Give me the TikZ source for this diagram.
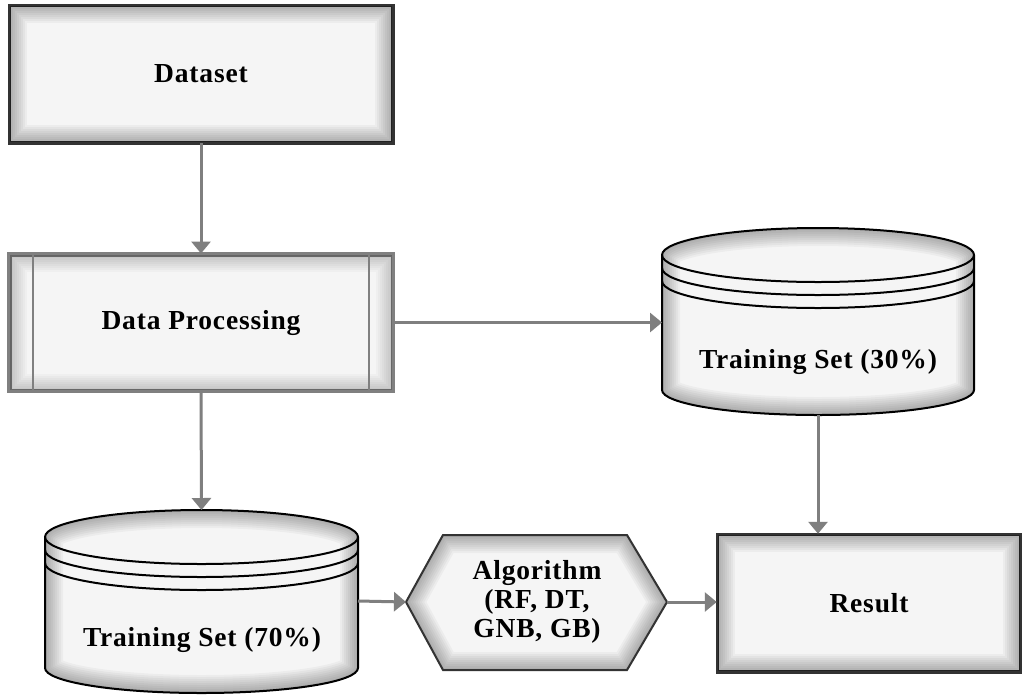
\documentclass[tikz,border=0pt]{standalone}
\usepackage{fontspec}
\setmainfont{Liberation Serif}
\newfontfamily\labfont{Liberation Serif}[LetterSpace=3]
\usetikzlibrary{arrows.meta}

\definecolor{boxfill}{HTML}{F5F5F5}
\definecolor{conncol}{HTML}{7F7F7F}
\definecolor{edgecol}{HTML}{333333}
\definecolor{procedge}{HTML}{808080}

\tikzset{
  lbl/.style={font=\labfont\bfseries\fontsize{27.5}{29}\selectfont, align=center, text=black, inner sep=0pt},
  link/.style={draw=conncol, line width=3pt, -{Triangle[length=12pt,width=19pt]}},
  boxframe/.style={draw=edgecol, line width=2.5pt, fill=boxfill, inner sep=0pt},
  ghost/.style={draw=none, inner sep=0pt, outer sep=0pt},
  % cylinder outline: x1, x2, y of top rim, y of bottom rim, x radius
  drum/.style n args={5}{insert path={(#1,#3) -- (#1,#4)
      arc[start angle=180,end angle=0,x radius=#5,y radius=25] -- (#2,#4) -- (#2,#3)
      arc[start angle=0,end angle=-180,x radius=#5,y radius=27] -- cycle}},
}

% soft darkening along the inside of a closed path
\newcommand\innershade[2][0.035]{%
  \begin{scope}
    \clip[#2];
    \foreach \w in {36,32,...,4}{\draw[line width=\w pt, black, opacity=#1, #2];}
  \end{scope}}

\begin{document}
\begin{tikzpicture}[x=1pt,y=-1pt]
\useasboundingbox (0,0) rectangle (1022,694);
\fill[white] (0,0) rectangle (1022,694);

% Dataset
\node[boxframe, minimum width=382pt, minimum height=136pt] (ds) at (201,74) {};
\innershade{insert path={(ds.south west) rectangle (ds.north east)}}
\draw[edgecol, line width=2.5pt] (ds.south west) rectangle (ds.north east);
\node[lbl] (dstxt) at (ds.center) {Dataset};

% Data Processing (predefined process)
\node[boxframe, draw=procedge, line width=3pt, minimum width=382pt, minimum height=135pt] (dp) at (201,322.5) {};
\innershade[0.025]{insert path={(dp.south west) rectangle (dp.north east)}}
\draw[procedge, line width=3pt] (dp.south west) rectangle (dp.north east);
\draw[procedge, line width=2.5pt] (33,255) -- (33,390) (369,255) -- (369,390);
\node[lbl] (dptxt) at (dp.center) {Data Processing};

% Training Set (30%)
\fill[boxfill, drum={662}{974}{255}{390}{156}];
\innershade{drum={662}{974}{255}{390}{156}}
\draw[black, line width=2pt, drum={662}{974}{255}{390}{156}];
\foreach \yy in {255,268,281}
  \draw[black, line width=2pt] (662,\yy) arc[start angle=180,end angle=0,x radius=156,y radius=27];
\node[ghost, minimum width=312pt, minimum height=187pt] (c30) at (818,321.5) {};
\node[lbl] (t30) at (818,362) {Training Set (30\%)};

% Training Set (70%)
\fill[boxfill, drum={45}{358}{537}{668}{156.5}];
\innershade{drum={45}{358}{537}{668}{156.5}}
\draw[black, line width=2pt, drum={45}{358}{537}{668}{156.5}];
\foreach \yy in {537,550,563}
  \draw[black, line width=2pt] (45,\yy) arc[start angle=180,end angle=0,x radius=156.5,y radius=27];
\node[ghost, minimum width=313pt, minimum height=182pt] (c70) at (201.5,601) {};
\node[lbl] (t70) at (202,640) {Training Set (70\%)};

% Algorithm (hexagon)
\fill[boxfill] (406,602) -- (443,535) -- (627,535) -- (667,602) -- (627,670) -- (443,670) -- cycle;
\innershade{insert path={(406,602) -- (443,535) -- (627,535) -- (667,602) -- (627,670) -- (443,670) -- cycle}}
\draw[edgecol, line width=2pt] (406,602) -- (443,535) -- (627,535) -- (667,602) -- (627,670) -- (443,670) -- cycle;
\node[ghost, minimum width=261pt, minimum height=135pt] (alg) at (536.5,602) {};
\node[lbl] (algtxt) at (537,602) {Algorithm\\(RF, DT,\\GNB, GB)};

% Result
\node[boxframe, minimum width=302pt, minimum height=136pt] (res) at (869,603) {};
\innershade{insert path={(res.south west) rectangle (res.north east)}}
\draw[edgecol, line width=2.5pt] (res.south west) rectangle (res.north east);
\node[lbl] (restxt) at (res.center) {Result};

% connectors
\draw[link] (ds.south) -- (dp.north);
\draw[link] (dp.south) -- (c70.north);
\draw[link] (dp.east) -- (dp.east -| c30.west);
\draw[link] (c30.south) -- (c30.south |- res.north);
\draw[link] (c70.east) -- (alg.west);
\draw[link] (alg.east) -- (alg.east -| res.west);
\end{tikzpicture}
\end{document}
